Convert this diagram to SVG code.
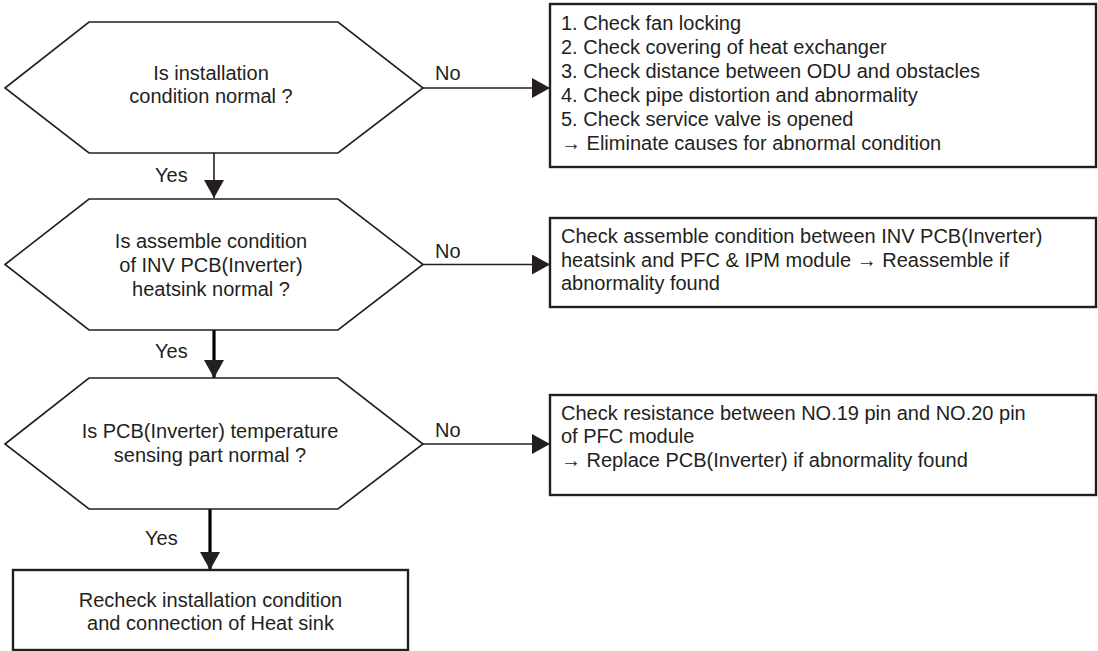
<svg xmlns="http://www.w3.org/2000/svg" width="1098" height="651" viewBox="0 0 1098 651">
  <style>
    .t { font-family: "Liberation Sans", Arial, sans-serif; font-size: 20px; fill: #231f20; }
    .c { text-anchor: middle; }
    .hex { fill: #ffffff; stroke: #231f20; stroke-width: 1.6; stroke-linejoin: miter; }
    .box { fill: #ffffff; stroke: #231f20; stroke-width: 2.4; }
    .thin { stroke: #231f20; stroke-width: 1.6; fill: none; }
    .thick { stroke: #000000; stroke-width: 3.2; fill: none; }
  </style>
  <defs>
    <marker id="arr" markerUnits="userSpaceOnUse" markerWidth="18" markerHeight="20" viewBox="0 0 18 20" refX="18" refY="10" orient="auto">
      <path d="M0,0 L18,10 L0,20 Z" fill="#231f20"/>
    </marker>
  </defs>
  <rect width="1098" height="651" fill="#ffffff"/>

  <g id="connectors">
    <line class="thin" x1="423" y1="88" x2="550" y2="88" marker-end="url(#arr)"/>
    <line class="thin" x1="423" y1="264.5" x2="550" y2="264.5" marker-end="url(#arr)"/>
    <line class="thin" x1="423" y1="444" x2="550" y2="444" marker-end="url(#arr)"/>
    <line class="thin" x1="214" y1="153" x2="214" y2="198" marker-end="url(#arr)"/>
    <line class="thick" x1="214" y1="330" x2="214" y2="378" marker-end="url(#arr)"/>
    <line class="thick" x1="210" y1="509" x2="210" y2="570" marker-end="url(#arr)"/>
    <text class="t" x="435" y="80">No</text>
    <text class="t" x="435" y="258">No</text>
    <text class="t" x="435" y="437">No</text>
    <text class="t" x="155" y="182">Yes</text>
    <text class="t" x="155" y="358">Yes</text>
    <text class="t" x="145" y="545">Yes</text>
  </g>

  <g id="q1">
    <polygon class="hex" points="5,88 89,22 338,22 423,88 338,153 89,153"/>
    <text class="t c" x="211" y="80">Is installation</text>
    <text class="t c" x="211" y="103">condition normal ?</text>
  </g>

  <g id="q2">
    <polygon class="hex" points="5,264.5 89,199 338,199 423,264.5 338,330 89,330"/>
    <text class="t c" x="211" y="248">Is assemble condition</text>
    <text class="t c" x="211" y="272">of INV PCB(Inverter)</text>
    <text class="t c" x="211" y="296">heatsink normal ?</text>
  </g>

  <g id="q3">
    <polygon class="hex" points="5,444 89,378 338,378 423,444 338,509 89,509"/>
    <text class="t c" x="210" y="438">Is PCB(Inverter) temperature</text>
    <text class="t c" x="210" y="462">sensing part normal ?</text>
  </g>

  <g id="a1">
    <rect class="box" x="550" y="4" width="546" height="163"/>
    <text class="t" x="561" y="30">1. Check fan locking</text>
    <text class="t" x="561" y="54">2. Check covering of heat exchanger</text>
    <text class="t" x="561" y="78">3. Check distance between ODU and obstacles</text>
    <text class="t" x="561" y="102">4. Check pipe distortion and abnormality</text>
    <text class="t" x="561" y="126">5. Check service valve is opened</text>
    <text class="t" x="561" y="150">→ Eliminate causes for abnormal condition</text>
  </g>

  <g id="a2">
    <rect class="box" x="550" y="218" width="546" height="89"/>
    <text class="t" x="561" y="243">Check assemble condition between INV PCB(Inverter)</text>
    <text class="t" x="561" y="267">heatsink and PFC &amp; IPM module → Reassemble if</text>
    <text class="t" x="561" y="290">abnormality found</text>
  </g>

  <g id="a3">
    <rect class="box" x="550" y="395" width="546" height="100"/>
    <text class="t" x="561" y="420">Check resistance between NO.19 pin and NO.20 pin</text>
    <text class="t" x="561" y="443">of PFC module</text>
    <text class="t" x="561" y="467">→ Replace PCB(Inverter) if abnormality found</text>
  </g>

  <g id="end">
    <rect class="box" x="13" y="570" width="395" height="80"/>
    <text class="t c" x="210.5" y="607">Recheck installation condition</text>
    <text class="t c" x="210.5" y="630">and connection of Heat sink</text>
  </g>
</svg>
